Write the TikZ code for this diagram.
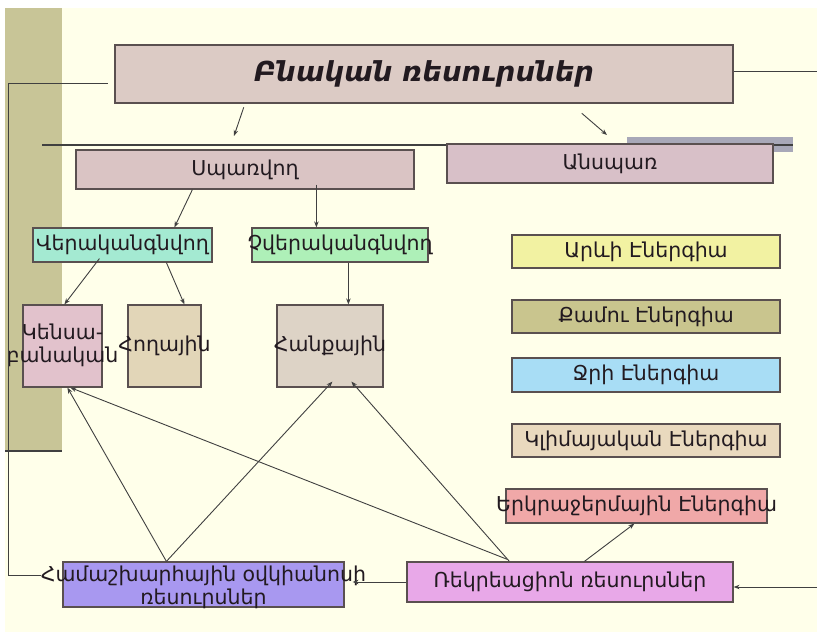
\documentclass[tikz,border=0pt]{standalone}
\usepackage{fontspec}
\setmainfont{DejaVu Sans}
\usetikzlibrary{arrows.meta,calc}
\definecolor{bgc}{HTML}{FFFFEA}
\definecolor{olivebar}{HTML}{C8C597}
\definecolor{darkln}{HTML}{404040}
\definecolor{greyrect}{HTML}{A8A8B8}
\definecolor{boxline}{HTML}{5A5050}
\definecolor{txt}{HTML}{221A20}
\definecolor{topfill}{HTML}{DCCBC5}
\definecolor{sparfill}{HTML}{DAC4C4}
\definecolor{ansparfill}{HTML}{D8C0C8}
\definecolor{verfill}{HTML}{A4EAD2}
\definecolor{chverfill}{HTML}{AEF0B8}
\definecolor{kensafill}{HTML}{E2C2CC}
\definecolor{hoghfill}{HTML}{E2D6B8}
\definecolor{hanqfill}{HTML}{DDD3C6}
\definecolor{areffill}{HTML}{F2F2A2}
\definecolor{qamufill}{HTML}{C9C58E}
\definecolor{jrifill}{HTML}{A8DDF5}
\definecolor{klimfill}{HTML}{E9D9BE}
\definecolor{erkrafill}{HTML}{F0A8A8}
\definecolor{rekrfill}{HTML}{E8A8E8}
\definecolor{hamfill}{HTML}{A898F0}
\tikzset{
  box/.style={draw=boxline, line width=1.2pt, inner sep=0pt, text=txt},
  conn/.style={draw=darkln, line width=0.9pt},
  arr/.style={conn, -{Stealth[length=6pt,width=4.5pt]}},
}
\newcommand{\ovr}[1]{\makebox[0pt]{#1}}
\newcommand{\ovrii}[2]{\makebox[0pt]{\begin{tabular}{@{}c@{}}#1\\#2\end{tabular}}}
\begin{document}
\begin{tikzpicture}[x=1pt,y=-1pt,font=\fontsize{20.5}{23}\selectfont]
\useasboundingbox (0,0) rectangle (817,632);
\fill[white] (0,0) rectangle (817,632);
\fill[bgc] (5,8) rectangle (817,632);
\fill[olivebar] (5,8) rectangle (62,451);
\draw[darkln, line width=2pt] (5,451) -- (62,451);
\fill[greyrect] (627,137) rectangle (793,152);
\draw[darkln, line width=2.5pt] (42,145) -- (793,145);

% nodes
\node[box, line width=2.5pt, fill=topfill, minimum width=618pt, minimum height=58pt,
      font=\fontsize{27.5}{31}\selectfont\bfseries\itshape] (top) at (424,74) {Բնական ռեսուրսներ};
\node[box, fill=sparfill, minimum width=338pt, minimum height=39pt] (spar) at (245,169.5) {Սպառվող};
\node[box, fill=ansparfill, minimum width=326pt, minimum height=39pt] (anspar) at (610,163.5) {Անսպառ};
\node[box, fill=verfill, minimum width=179pt, minimum height=34pt] (ver) at (122.5,245) {\ovr{Վերականգնվող}};
\node[box, fill=chverfill, minimum width=176pt, minimum height=34pt] (chver) at (340,245) {\ovr{Չվերականգնվող}};
\node[box, fill=kensafill, minimum width=79pt, minimum height=82pt] (kensa) at (62.5,346) {\raisebox{-2pt}{\ovrii{Կենսա-}{բանական}}};
\node[box, fill=hoghfill, minimum width=73pt, minimum height=82pt] (hogh) at (164.5,346) {\ovr{Հողային}};
\node[box, fill=hanqfill, minimum width=106pt, minimum height=82pt] (hanq) at (330,346) {\ovr{Հանքային}};
\node[box, fill=areffill, minimum width=268pt, minimum height=33pt] (arev) at (646,251.5) {Արևի Էներգիա};
\node[box, fill=qamufill, minimum width=268pt, minimum height=33pt] (qamu) at (646,316.5) {Քամու Էներգիա};
\node[box, fill=jrifill, minimum width=268pt, minimum height=34pt] (jri) at (646,375) {Ջրի Էներգիա};
\node[box, fill=klimfill, minimum width=268pt, minimum height=33pt] (klim) at (646,440.5) {Կլիմայական Էներգիա};
\node[box, fill=erkrafill, minimum width=261pt, minimum height=34pt] (erkra) at (636.5,506) {\ovr{Երկրաջերմային Էներգիա}};
\node[box, fill=rekrfill, minimum width=326pt, minimum height=40pt] (rekr) at (570,582) {Ռեկրեացիոն ռեսուրսներ};
\node[box, fill=hamfill, minimum width=281pt, minimum height=45pt] (ham) at (203.5,584.5) {\raisebox{-9pt}[0pt][0pt]{\ovrii{Համաշխարհային օվկիանոսի}{ռեսուրսներ}}};

% free ends
\coordinate (a1) at (234,136);
\coordinate (a2) at (607,135);
\coordinate (r0) at (817,71);
\coordinate (r1) at (817,587);
\coordinate (l1) at (8,83);
\coordinate (l2) at (8,575);

% connectors
\draw[arr] ($(top.south west)+(130,3)$) -- (a1);
\draw[arr] ($(top.south west)+(468,9)$) -- (a2);
\draw[arr] ($(spar.south west)+(117,0)$) -- ($(ver.north west)+(142,0)$);
\draw[arr] ($(spar.south west)+(241,-5)$) -- ($(chver.north west)+(65,0)$);
\draw[arr] ($(ver.south west)+(67,-4)$) -- ($(kensa.north west)+(42,0)$);
\draw[arr] ($(ver.south west)+(134,0)$) -- ($(hogh.north west)+(57,0)$);
\draw[arr] ($(chver.south west)+(97,0)$) -- ($(hanq.north west)+(72,0)$);
\draw[arr] ($(ham.north west)+(104,0)$) -- ($(kensa.south west)+(45,0)$);
\draw[arr] ($(ham.north west)+(104,0)$) -- ($(hanq.south west)+(56,-6)$);
\draw[arr] ($(rekr.north west)+(101,-2)$) -- ($(kensa.south west)+(48,0)$);
\draw[arr] ($(rekr.north west)+(103,0)$) -- ($(hanq.south west)+(75,-6)$);
\draw[arr] ($(rekr.north west)+(178,0)$) -- ($(erkra.south west)+(129,0)$);
\draw[arr] (rekr.west) -- ($(ham.east)+(8,-2.5)$);
\draw[arr] (r1) -- ($(rekr.east)+(0,5)$);
\draw[conn] ($(top.east)+(0,-3)$) -- (r0);
\draw[conn] ($(top.west)+(-6,9)$) -- (l1) -- (l2) -- ($(ham.west)+(-21,-9.5)$);
\end{tikzpicture}
\end{document}
